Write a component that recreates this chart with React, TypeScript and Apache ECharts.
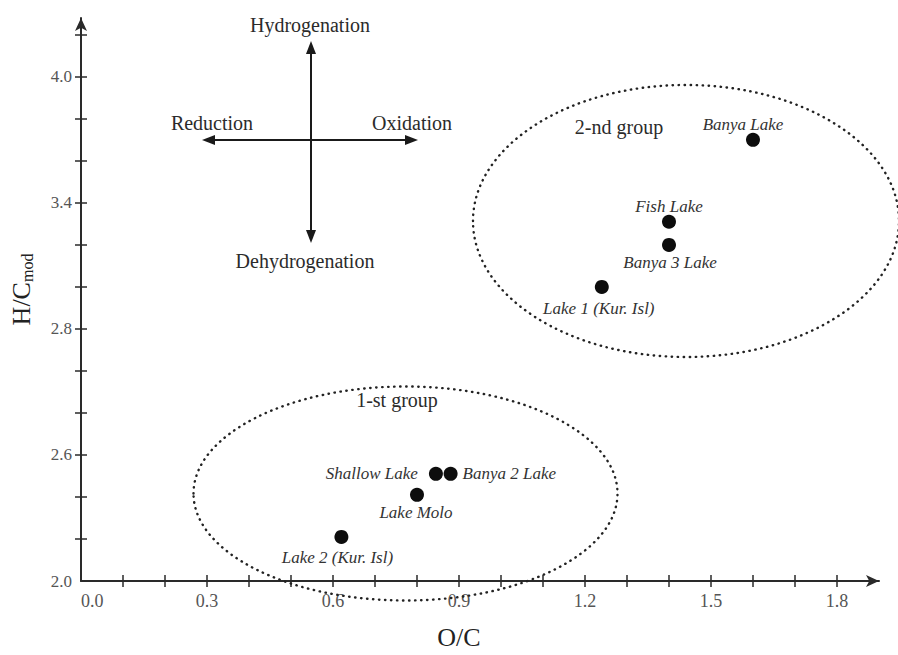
import React, { useEffect, useRef } from "react";
import * as echarts from "echarts";

// ---- data ----
const lakeNames = [
  "Banya Lake",
  "Fish Lake",
  "Banya 3 Lake",
  "Lake 1 (Kur. Isl)",
  "Shallow Lake",
  "Banya 2 Lake",
  "Lake Molo",
  "Lake 2 (Kur. Isl)",
];
const ocValues = [1.6, 1.4, 1.4, 1.24, 0.845, 0.88, 0.8, 0.62];
const hcValues = [3.7, 3.31, 3.2, 3.0, 2.11, 2.11, 2.01, 1.81];

const xTickValues = [0.1, 0.2, 0.3, 0.4, 0.5, 0.6, 0.7, 0.8, 0.9, 1.0, 1.1, 1.2, 1.3, 1.4, 1.5, 1.6, 1.7, 1.8];
const xLabelValues = [0, 0.3, 0.6, 0.9, 1.2, 1.5, 1.8];
const xTickLabels = ["0.0", "0.3", "0.6", "0.9", "1.2", "1.5", "1.8"];

const yTickValues = [1.8, 2.0, 2.2, 2.4, 2.6, 2.8, 3.0, 3.2, 3.4, 3.6, 3.8, 4.0, 4.2];
const yLabelValues = [1.6, 2.2, 2.8, 3.4, 4.0];
const yTickLabels = ["2.0", "2.6", "2.8", "3.4", "4.0"];

// label placement for each point (not data)
const labelPlacement: any[] = [
  { position: "inside", offset: [-10, -15] },
  { position: "inside", offset: [0, -15] },
  { position: "inside", offset: [1, 18] },
  { position: "inside", offset: [-3, 22] },
  { position: "left", distance: 11 },
  { position: "right", distance: 5 },
  { position: "inside", offset: [-1, 18] },
  { position: "inside", offset: [-4, 21] },
];

const SERIF = "'Liberation Serif', 'DejaVu Serif', serif";

function lookup(values: number[], labels: string[], v: number) {
  const i = values.findIndex((t) => Math.abs(t - v) < 1e-6);
  return i >= 0 ? labels[i] : "";
}

export default function App() {
  const ref = useRef<HTMLDivElement>(null);
  useEffect(() => {
    document.body.style.margin = "0";
    if (!ref.current) return;
    const chart = echarts.init(ref.current, null, { renderer: "svg" });
    const axisColor = "#2a2a2a";
    const xMin = 0,
      xMax = 1.9,
      yMin = 1.6,
      yMax = 4.28;

    const text = (t: string, x: number, y: number, size: number) => ({
      type: "text",
      x,
      y,
      style: {
        text: t,
        fill: "#2b2b2b",
        font: `${size}px ${SERIF}`,
        align: "center",
        verticalAlign: "middle",
        textAlign: "center",
        textVerticalAlign: "middle",
      },
      z: 10,
    });
    const line = (x1: number, y1: number, x2: number, y2: number) => ({
      type: "line",
      shape: { x1, y1, x2, y2 },
      style: { stroke: "#1a1a1a", lineWidth: 2 },
      z: 10,
    });
    const head = (pts: number[][]) => ({
      type: "polygon",
      shape: { points: pts },
      style: { fill: "#1a1a1a" },
      z: 10,
    });
    const ellipse = (cx: number, cy: number, rx: number, ry: number) => ({
      type: "ellipse",
      shape: { cx, cy, rx, ry },
      style: {
        fill: "none",
        stroke: "#222",
        lineWidth: 2.4,
        lineDash: [0.4, 5.6],
        lineCap: "round",
      },
      z: 5,
    });

    chart.setOption({
      animation: false,
      backgroundColor: "#ffffff",
      grid: { left: 77, right: 19, top: 18, bottom: 70 },
      xAxis: [
        {
          type: "value",
          min: xMin,
          max: xMax,
          name: "O/C",
          nameLocation: "middle",
          nameGap: 43,
          nameTextStyle: {
            fontFamily: SERIF,
            fontSize: 26,
            color: "#222",
            padding: [0, 42, 0, 0],
          },
          axisLine: {
            show: true,
            onZero: false,
            symbol: ["none", "arrow"],
            symbolSize: [9, 13],
            lineStyle: { color: axisColor, width: 2 },
          },
          axisTick: {
            show: true,
            length: 6,
            customValues: xTickValues,
            lineStyle: { color: axisColor, width: 1.5 },
          },
          axisLabel: {
            show: true,
            customValues: xLabelValues,
            formatter: (v: number) => lookup(xLabelValues, xTickLabels, v),
            fontFamily: SERIF,
            fontSize: 18,
            color: "#555",
            margin: 11,
            alignMinLabel: "left",
          },
          splitLine: { show: false },
        },
        {
          type: "value",
          min: xMin,
          max: xMax,
          position: "bottom",
          axisLine: { show: false, onZero: false },
          axisTick: {
            show: true,
            inside: true,
            length: 6,
            customValues: xTickValues,
            lineStyle: { color: axisColor, width: 1.5 },
          },
          axisLabel: { show: false },
          splitLine: { show: false },
        },
      ],
      yAxis: [
        {
          type: "value",
          min: yMin,
          max: yMax,
          name: "{a|H/C}{b|mod}",
          nameLocation: "middle",
          nameGap: 46,
          nameRotate: 90,
          nameTextStyle: {
            fontFamily: SERIF,
            color: "#222",
            padding: [0, 0, 0, 20],
            rich: {
              a: { fontFamily: SERIF, fontSize: 26, color: "#222", lineHeight: 28 },
              b: {
                fontFamily: SERIF,
                fontSize: 16,
                color: "#222",
                lineHeight: 14,
                verticalAlign: "bottom",
              },
            },
          },
          axisLine: {
            show: true,
            onZero: false,
            symbol: ["none", "arrow"],
            symbolSize: [9, 13],
            lineStyle: { color: axisColor, width: 2 },
          },
          axisTick: {
            show: true,
            length: 6,
            customValues: yTickValues,
            lineStyle: { color: axisColor, width: 1.5 },
          },
          axisLabel: {
            show: true,
            customValues: yLabelValues,
            formatter: (v: number) => lookup(yLabelValues, yTickLabels, v),
            fontFamily: SERIF,
            fontSize: 17,
            color: "#555",
            margin: 9,
          },
          splitLine: { show: false },
        },
        {
          type: "value",
          min: yMin,
          max: yMax,
          position: "left",
          axisLine: { show: false, onZero: false },
          axisTick: {
            show: true,
            inside: true,
            length: 6,
            customValues: yTickValues,
            lineStyle: { color: axisColor, width: 1.5 },
          },
          axisLabel: { show: false },
          splitLine: { show: false },
        },
      ],
      series: [
        {
          type: "scatter",
          xAxisIndex: 0,
          yAxisIndex: 0,
          symbol: "circle",
          symbolSize: 14,
          itemStyle: { color: "#0d0d0d", opacity: 1 },
          z: 20,
          label: {
            show: true,
            formatter: "{b}",
            fontFamily: SERIF,
            fontStyle: "italic",
            fontSize: 17,
            color: "#333",
          },
          data: lakeNames.map((n, i) => ({
            name: n,
            value: [ocValues[i], hcValues[i]],
            label: labelPlacement[i],
          })),
        },
      ],
      graphic: [
        ellipse(686, 221, 213, 136),
        ellipse(405.5, 493.5, 212, 107),
        text("2-nd group", 619, 127, 20),
        text("1-st group", 397, 400, 20),
        line(311, 52, 311, 232),
        head([[311, 41], [306, 54], [316, 54]]),
        head([[311, 243], [306, 230], [316, 230]]),
        line(212, 140, 408, 140),
        head([[202, 140], [215, 135], [215, 145]]),
        head([[418, 140], [405, 135], [405, 145]]),
        text("Hydrogenation", 310, 25, 20),
        text("Reduction", 212, 123, 20),
        text("Oxidation", 412, 123, 20),
        text("Dehydrogenation", 305, 261, 20),
      ],
    });
    return () => chart.dispose();
  }, []);
  return <div ref={ref} style={{ width: 898, height: 655 }} />;
}
